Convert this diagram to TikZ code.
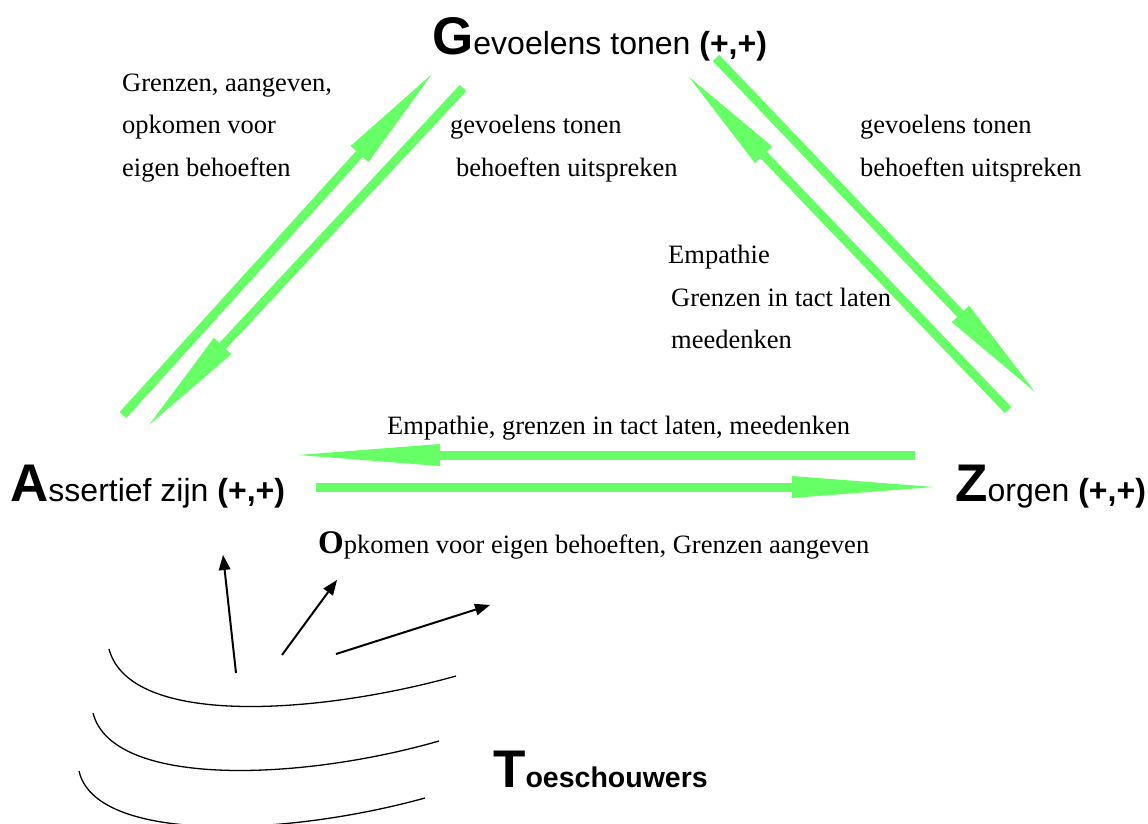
\documentclass[tikz,border=0pt]{standalone}
\usepackage{fontspec}
\setmainfont{Liberation Serif}
\newfontfamily\hel{Liberation Sans}
\usetikzlibrary{arrows.meta}
\definecolor{arrgreen}{RGB}{102,255,102}
\tikzset{
  lbl/.style={anchor=base west, inner sep=0pt, font=\fontsize{26.5}{30}\selectfont},
  title/.style={anchor=base west, inner sep=0pt, font=\hel\fontsize{32}{34}\selectfont},
  garrow/.style={draw=arrgreen, line width=9pt, -{Triangle[length=108pt,width=24pt,line width=0pt]}},
  harrow/.style={draw=arrgreen, line width=9pt, -{Triangle[length=142pt,width=22pt,line width=0pt]}},
  barrow/.style={draw=black, line width=2pt, -{Triangle[length=15pt,width=12pt,line width=0pt]}},
  wave/.style={draw=black, line width=1.3pt},
}
\newcommand{\bigini}[1]{{\fontsize{53}{53}\selectfont\bfseries #1}}
\begin{document}
\begin{tikzpicture}[x=1pt,y=-1pt]
\useasboundingbox (0,0) rectangle (1148,824);

% titles
\node[title] (G) at (432,55) {\bigini{G}evoelens tonen {\bfseries(+,+)}};
\node[title] (A) at (10,501) {\bigini{A}ssertief zijn {\bfseries(+,+)}};
\node[title] (Z) at (955,501) {\bigini{Z}orgen {\bfseries(+,+)}};
\node[title] (T) at (493,787) {\bigini{T}{\fontsize{28.5}{32}\selectfont\bfseries oeschouwers}};

% labels
\node[lbl] (l1) at (122,92) {Grenzen, aangeven,};
\node[lbl] (l2) at (122,134) {opkomen voor};
\node[lbl] (l3) at (122,176) {eigen behoeften};
\node[lbl] (m1) at (450,134) {gevoelens tonen};
\node[lbl] (m2) at (456,176) {behoeften uitspreken};
\node[lbl] (r1) at (860,134) {gevoelens tonen};
\node[lbl] (r2) at (860,176) {behoeften uitspreken};
\node[lbl] (e1) at (668,263) {Empathie};
\node[lbl] (e2) at (671,306) {Grenzen in tact laten};
\node[lbl] (e3) at (671,348) {meedenken};
\node[lbl] (h1) at (387,434) {Empathie, grenzen in tact laten, meedenken};
\node[lbl] (h2) at (318,553) {{\fontsize{33}{33}\selectfont\bfseries O}pkomen voor eigen behoeften, Grenzen aangeven};

% green arrow end points
\coordinate (aup0) at (123,415);  \coordinate (aup1) at (432,74);
\coordinate (adn0) at (463,88);   \coordinate (adn1) at (149,425);
\coordinate (zdn0) at (716,58);   \coordinate (zdn1) at (1035,392);
\coordinate (zup0) at (1008,410); \coordinate (zup1) at (689,77);
\coordinate (hl0) at (915,455);   \coordinate (hl1) at (298,455);
\coordinate (hr0) at (316,487);   \coordinate (hr1) at (934,487);

\draw[garrow] (aup0) -- (aup1);
\draw[garrow] (adn0) -- (adn1);
\draw[garrow] (zdn0) -- (zdn1);
\draw[garrow] (zup0) -- (zup1);
\draw[harrow] (hl0) -- (hl1);
\draw[harrow] (hr0) -- (hr1);

% black arrows
\coordinate (b1s) at (236,673); \coordinate (b1e) at (223,555);
\coordinate (b2s) at (282,655); \coordinate (b2e) at (337,580);
\coordinate (b3s) at (336,654); \coordinate (b3e) at (490,605);
\draw[barrow] (b1s) -- (b1e);
\draw[barrow] (b2s) -- (b2e);
\draw[barrow] (b3s) -- (b3e);

% spectator curves
\coordinate (c1s) at (109,649); \coordinate (c1e) at (456,676);
\coordinate (c2s) at (93,713);  \coordinate (c2e) at (439,741);
\coordinate (c3s) at (79,771);  \coordinate (c3e) at (425,798);
\draw[wave] (c1s) .. controls (130,728) and (320,714) .. (c1e);
\draw[wave] (c2s) .. controls (112,788) and (300,781) .. (c2e);
\draw[wave] (c3s) .. controls (95,842) and (280,838) .. (c3e);
\end{tikzpicture}
\end{document}
